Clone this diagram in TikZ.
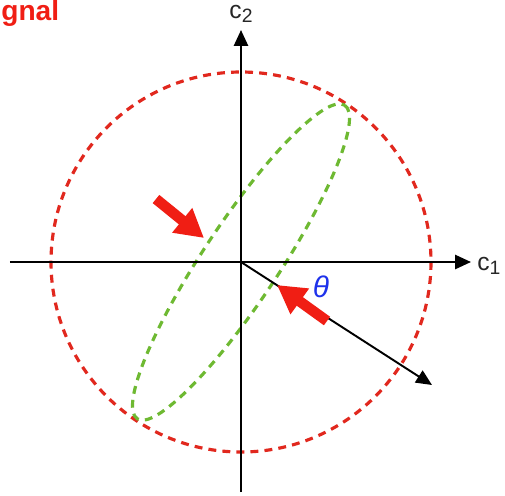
\documentclass[tikz,border=0pt]{standalone}
\usepackage{fontspec}
\setmainfont{Liberation Sans}
\usetikzlibrary{arrows.meta}
\definecolor{sigred}{RGB}{240,30,20}
\definecolor{dred}{RGB}{225,40,30}
\definecolor{dgreen}{RGB}{110,185,50}
\definecolor{thblue}{RGB}{30,50,235}
\tikzset{
  axis/.style={line width=1.2pt, -{Triangle[length=9pt,width=8pt]}},
  reddash/.style={draw=dred, line width=1.8pt, dash pattern=on 4.5pt off 3.5pt},
  greendash/.style={draw=dgreen, line width=1.8pt, dash pattern=on 4.5pt off 3.5pt},
  bigarrow/.style={draw=sigred, line width=6pt, -{Triangle[length=16pt,width=17pt]}},
  vecarrow/.style={line width=1.1pt, -{Triangle[length=9pt,width=8pt]}},
  lab/.style={inner sep=0pt, font=\fontsize{14}{16}\selectfont, text=black!85}
}
\begin{document}
\begin{tikzpicture}[x=0.02cm, y=-0.02cm]
\useasboundingbox (0,0) rectangle (505,495);
\coordinate (O) at (241,262);
\coordinate (xl) at (10,262);
\coordinate (xr) at (471,262);
\coordinate (yb) at (241,492);
\coordinate (yt) at (241,30);
% circle and ellipse
\draw[reddash] (O) circle[radius=190];
\draw[greendash, shift={(O)}, rotate=56.5] (0,0) ellipse[x radius=188, y radius=38];
% axes
\draw[axis] (xl) -- (xr);
\draw[axis] (yb) -- (yt);
\node[lab, anchor=west] (c1) at (477,266) {c\raisebox{-0.35ex}{\fontsize{11}{12}\selectfont 1}};
\node[lab] (c2) at (241,14) {c\raisebox{-0.35ex}{\fontsize{11}{12}\selectfont 2}};
% vector
\coordinate (v) at (432,385);
\draw[vecarrow] (O) -- (v);
% red arrows
\coordinate (a1s) at (156,199);
\coordinate (a1e) at (204,238);
\draw[bigarrow] (a1s) -- (a1e);
\coordinate (a2s) at (327,321);
\coordinate (a2e) at (277,285);
\draw[bigarrow] (a2s) -- (a2e);
\node[text=thblue, inner sep=0pt, font=\itshape\fontsize{17}{18}\selectfont] (th) at (321,287) {θ};
% title fragment
\node[anchor=south west, inner sep=0pt, text=sigred, font=\bfseries\fontsize{16}{18}\selectfont] (t) at (1,27) {gnal};
\end{tikzpicture}
\end{document}
